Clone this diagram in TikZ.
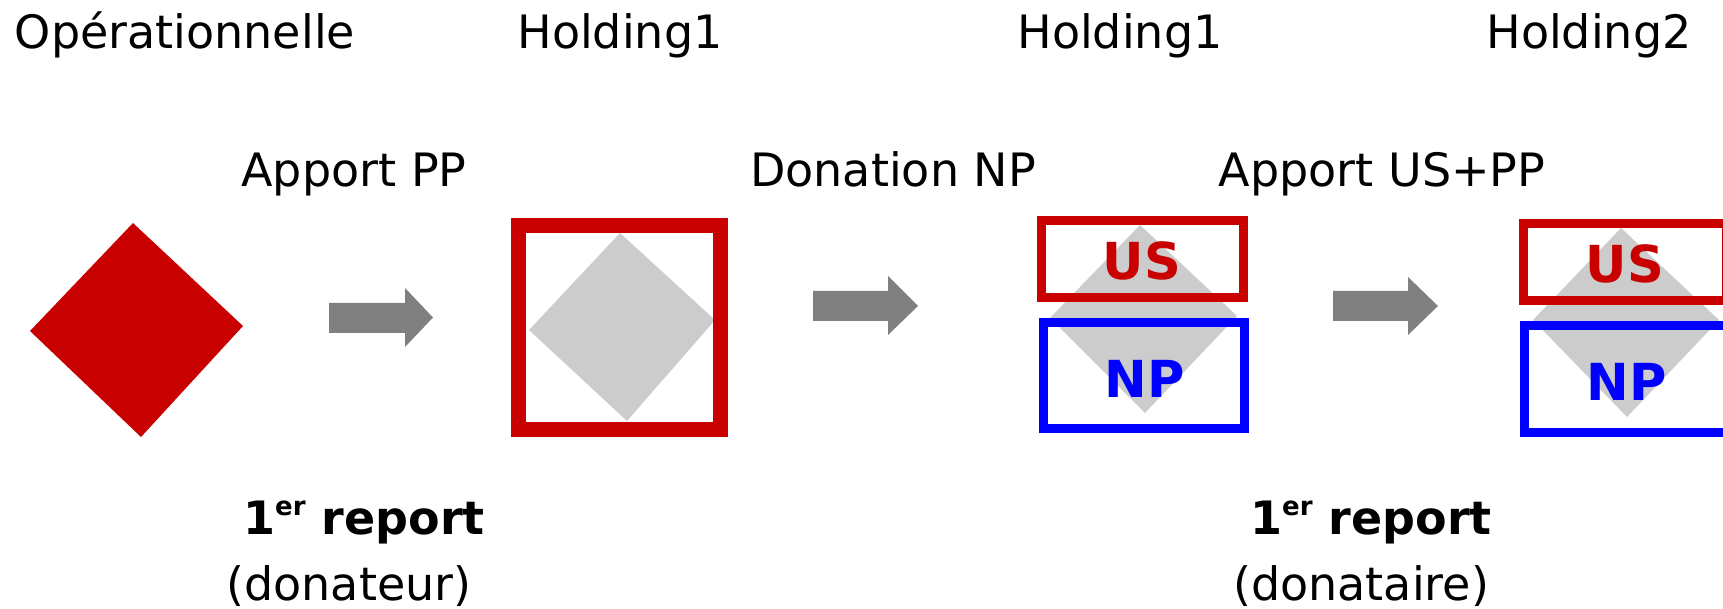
\documentclass[tikz,border=0pt]{standalone}
\usepackage{fontspec}
\setmainfont{DejaVu Sans}
\definecolor{dred}{RGB}{200,0,0}
\definecolor{dblue}{RGB}{0,0,255}
\definecolor{arrowgray}{RGB}{128,128,128}
\definecolor{lgray}{RGB}{204,204,204}
\newcommand{\myexp}[1]{\raisebox{19pt}{\fontsize{26}{28}\selectfont #1}}
\begin{document}
\begin{tikzpicture}[x=1pt,y=-1pt,
  lbl/.style={anchor=base,inner sep=0pt,font=\fontsize{46}{50}\selectfont},
  blbl/.style={anchor=base,inner sep=0pt,font=\fontsize{46}{50}\selectfont\bfseries},
  tag/.style={anchor=base,inner sep=0pt,font=\fontsize{51}{55}\selectfont\bfseries},
  blockarrow/.style={fill=arrowgray},
  gemred/.style={fill=dred},
  gemgray/.style={fill=lgray},
  usbox/.style={draw=dred,line width=9pt},
  npbox/.style={draw=dblue,line width=9pt},
  holdbox/.style={draw=dred,line width=15pt}]
\useasboundingbox (0,0) rectangle (1723,609);
\fill[white] (0,0) rectangle (1723,609);

% top titles
\node[lbl] (op) at (185,49) {Opérationnelle};
\node[lbl] (h1a) at (620,49) {Holding1};
\node[lbl] (h1b) at (1120,49) {Holding1};
\node[lbl] (h2) at (1589,49) {Holding2};

% step labels
\node[lbl] (s1) at (354,187) {Apport PP};
\node[lbl] (s2) at (893,187) {Donation NP};
\node[lbl] (s3) at (1382,187) {Apport US+PP};

% operational company
\fill[gemred] (133,223) -- (243,326) -- (141,437) -- (30,331) -- cycle;

% arrow 1
\fill[blockarrow] (329,303) -- (405,303) -- (405,288) -- (433,317.5) -- (405,347) -- (405,333) -- (329,333) -- cycle;

% Holding1
\fill[gemgray] (620,233) -- (715,320) -- (627,421) -- (529,330) -- cycle;
\draw[holdbox] (518.5,226) rectangle (720.5,429.5);

% arrow 2
\fill[blockarrow] (813,291) -- (888,291) -- (888,276) -- (918,306) -- (888,335) -- (888,321) -- (813,321) -- cycle;

% Holding1 after donation
\fill[gemgray] (1140,225) -- (1237,316) -- (1145,413) -- (1050,318) -- cycle;
\draw[usbox] (1041.5,220.5) rectangle (1243,297.5);
\draw[npbox] (1043,322.5) rectangle (1244.5,428.5);
\node[tag,text=dred] (us1) at (1142,280) {US};
\node[tag,text=dblue] (np1) at (1145,397) {NP};

% arrow 3
\fill[blockarrow] (1333,291) -- (1408,291) -- (1408,277) -- (1438,306) -- (1408,335) -- (1408,321) -- (1333,321) -- cycle;

% Holding2
\fill[gemgray] (1621,228) -- (1719,320) -- (1627,417) -- (1533,320) -- cycle;
\draw[usbox] (1523,223.5) rectangle (1726,301);
\draw[npbox] (1524.5,325.5) rectangle (1727,432.5);
\node[tag,text=dred] (us2) at (1625,283) {US};
\node[tag,text=dblue] (np2) at (1627,400) {NP};

% bottom labels
\node[blbl] (r1) at (364,534) {1\myexp{er} report};
\node[lbl] (d1) at (349,600) {(donateur)};
\node[blbl] (r2) at (1371,534) {1\myexp{er} report};
\node[lbl] (d2) at (1361,600) {(donataire)};
\end{tikzpicture}
\end{document}
